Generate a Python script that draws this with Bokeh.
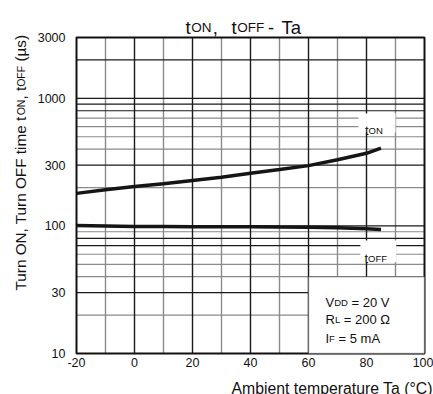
from bokeh.plotting import figure
from bokeh.models import (Label, BoxAnnotation, FixedTicker, LinearAxis,
                          LogAxis, NumeralTickFormatter, Range1d)
from bokeh.embed import file_html
from bokeh.resources import INLINE
import math

# ---- data -------------------------------------------------------------
temps = [-20, -10, 0, 10, 20, 30, 40, 50, 60, 70, 80, 85]
t_on = [180, 192, 204, 214, 227, 241, 259, 277, 297, 330, 371, 407]
t_off = [101, 100, 99, 99, 98.7, 98.5, 98.4, 98, 97.7, 96.6, 95, 93.7]

x_lim = [-20, 100]
y_lim = [10, 3000]
x_ticks = [-20, 0, 20, 40, 60, 80, 100]
y_ticks = [10, 30, 100, 300, 1000, 3000]
x_grid_major = [0, 20, 40, 60, 80]
x_grid_minor = [-10, 10, 30, 50, 70, 90]
y_grid_dark = [2000, 1000, 900, 800, 300, 100, 80, 70, 30]
y_grid_light = [700, 600, 500, 400, 200, 90, 60, 50, 40, 20]

FONT = "Liberation Sans"
W_PX, H_PX = 433, 394
# plot area inside the canvas (px): left, right, top, bottom
PL, PR, PT, PB = 76, 424, 37, 353

# extend the ranges so that the data box lands on the plot area and the
# whole canvas is the frame (texts outside the box are then not clipped)
xs = (x_lim[1] - x_lim[0]) / (PR - PL)
x_range = Range1d(x_lim[0] - PL * xs, x_lim[1] + (W_PX - PR) * xs)
ys = (math.log10(y_lim[1]) - math.log10(y_lim[0])) / (PB - PT)
y_range = Range1d(10 ** (math.log10(y_lim[0]) - (H_PX - PB) * ys),
                  10 ** (math.log10(y_lim[1]) + PT * ys))

p = figure(width=W_PX, height=H_PX, y_axis_type="log",
           x_range=x_range, y_range=y_range,
           x_axis_location=None, y_axis_location=None,
           min_border=0, toolbar_location=None, output_backend="svg")
p.title.visible = False
p.background_fill_color = "white"
p.border_fill_color = "white"
p.outline_line_color = None
p.xgrid.visible = False
p.ygrid.visible = False

# grid lines
n = len(x_grid_minor)
p.segment(x0=x_grid_minor, x1=x_grid_minor, y0=[y_lim[0]] * n,
          y1=[y_lim[1]] * n, line_color="#8a8a8a", line_width=1.4)
n = len(y_grid_light)
p.segment(x0=[x_lim[0]] * n, x1=[x_lim[1]] * n, y0=y_grid_light,
          y1=y_grid_light, line_color="#8a8a8a", line_width=1.2)
n = len(x_grid_major)
p.segment(x0=x_grid_major, x1=x_grid_major, y0=[y_lim[0]] * n,
          y1=[y_lim[1]] * n, line_color="#1a1a1a", line_width=1.4)
n = len(y_grid_dark)
p.segment(x0=[x_lim[0]] * n, x1=[x_lim[1]] * n, y0=y_grid_dark,
          y1=y_grid_dark, line_color="#1a1a1a", line_width=1.2)

# curves
p.line(temps, t_on, line_color="#151515", line_width=3.5)
p.line(temps, t_off, line_color="#151515", line_width=3.5)

# frame outline
p.quad(left=[x_lim[0]], right=[x_lim[1]], bottom=[y_lim[0]], top=[y_lim[1]],
       fill_alpha=0, line_color="#111111", line_width=2)

# axes (tick labels only), fixed on the data box edges
xa = LinearAxis(fixed_location=y_lim[0], ticker=FixedTicker(ticks=x_ticks),
                formatter=NumeralTickFormatter(format="0"))
ya = LogAxis(fixed_location=x_lim[0], ticker=FixedTicker(ticks=y_ticks),
             formatter=NumeralTickFormatter(format="0"))
for ax in (xa, ya):
    ax.major_tick_out = 0
    ax.major_tick_in = 0
    ax.minor_tick_out = 0
    ax.minor_tick_in = 0
    ax.axis_line_color = None
    ax.major_label_text_font = FONT
    ax.major_label_text_font_size = "12.5px"
    ax.major_label_text_color = "#111111"
xa.major_label_standoff = 4
ya.major_label_standoff = 11
p.add_layout(xa, "below")
p.add_layout(ya, "left")

# white boxes
p.add_layout(BoxAnnotation(left=60, right=100, bottom=10, top=40,
                           fill_color="white", fill_alpha=1,
                           line_color="#111111", line_width=1.5))
p.add_layout(BoxAnnotation(left=77.2, right=90, bottom=540, top=760,
                           fill_color="white", fill_alpha=1, line_alpha=0))
p.add_layout(BoxAnnotation(left=77.9, right=90.3, bottom=52, top=77,
                           fill_color="white", fill_alpha=1, line_alpha=0))

# ---- rich text helper (small-caps subscripts) -------------------------
W = {' ': .278, 't': .278, 'O': .778, 'N': .722, ',': .278, 'F': .611,
     '-': .333, 'T': .611, 'a': .556, 'u': .556, 'r': .333, 'n': .556,
     'i': .222, 'm': .833, 'e': .556, '(': .333, ')': .333, 'µ': .576,
     's': .5, 'V': .667, 'D': .722, '=': .584, 'R': .722, 'L': .556,
     'Ω': .768, 'I': .278, 'A': .667}


def twidth(s, size):
    return sum(W.get(c, .556) for c in s) * size


def mk_label(text, size, cx, cy, angle=0):
    p.add_layout(Label(x=cx, y=H_PX - cy, x_units="screen", y_units="screen",
                       text=text, text_font=FONT,
                       text_font_size=f"{size}px", text_color="#111111",
                       angle=angle, angle_units="deg",
                       text_align="left", text_baseline="alphabetic"))


def rich(pieces, cx, cy, angle=0):
    off = 0.0
    for text, size in pieces:
        body = text.lstrip(" ")
        off += twidth(text[:len(text) - len(body)], size)
        if angle == 0:
            mk_label(body, size, cx + off, cy)
        else:
            mk_label(body, size, cx, cy - off, angle)
        off += twidth(body, size)


# title
TB, TS = 18.5, 13.5
for text, size, cx in [("t", TB, 185), ("ON", TS, 190.8), (",", TB, 212.3),
                       ("t", TB, 231), ("OFF", TS, 236.8),
                       ("-", TB, 267.5), ("Ta", TB, 281)]:
    mk_label(text, size, cx, 26.7)

# y axis label (rotated)
BIG, SM = 15.3, 10.5
rich([("Turn ON, Turn OFF time t", BIG), ("ON", SM), (", t", BIG),
      ("OFF", SM), (" (µs)", BIG)], 20, 290, angle=90)

# x axis label
rich([("Ambient temperature Ta (°C)", 15.8)], 231, 388)

# curve labels
rich([("t", 13), ("ON", 9.5)], 364.5, 130)
rich([("t", 13), ("OFF", 9.5)], 364, 258.3)

# condition box
rich([("V", 13), ("DD", 9.5), (" = 20 V", 13)], 325, 301.7)
rich([("R", 13), ("L", 9.5), (" = 200 Ω", 13)], 325, 319.3)
rich([("I", 13), ("F", 9.5), (" = 5 mA", 13)], 325, 337.7)

open("out.html", "w").write(file_html(p, INLINE))
